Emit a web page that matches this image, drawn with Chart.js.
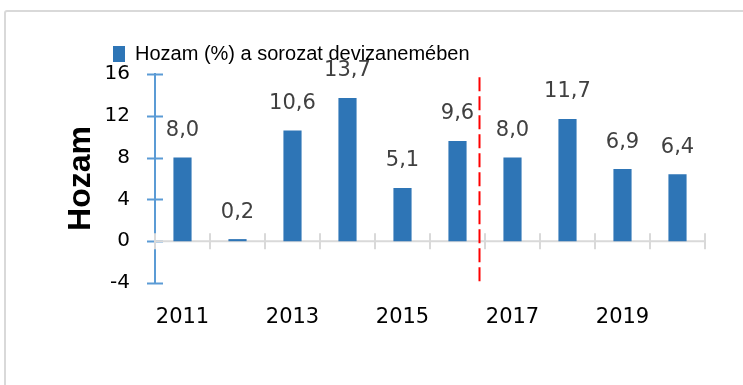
<!DOCTYPE html>
<html lang="hu">
<head>
<meta charset="utf-8">
<title>Hozam (%) a sorozat devizanemében</title>
<script src="https://cdn.jsdelivr.net/npm/chart.js@4/dist/chart.umd.min.js"></script>
<style>
  html, body { margin: 0; padding: 0; background: #ffffff; overflow: hidden; }
  #wrap { position: relative; width: 743px; height: 385px; }
  #frame {
    position: absolute; left: 4px; top: 10px; width: 800px; height: 420px;
    border: 2px solid #d9d9d9; border-radius: 3px; box-sizing: border-box;
  }
  #chart { position: absolute; left: 0; top: 0; }
</style>
</head>
<body>
<div id="wrap">
  <div id="frame"></div>
  <canvas id="chart" width="743" height="385"></canvas>
</div>
<script>
// Years and annual returns (%) in the series' currency
const years = ['2011', '2012', '2013', '2014', '2015', '2016', '2017', '2018', '2019', '2020'];
const returns = [8.0, 0.2, 10.6, 13.7, 5.1, 9.6, 8.0, 11.7, 6.9, 6.4];
const xTickLabels = ['2011', '', '2013', '', '2015', '', '2017', '', '2019', ''];
const yMin = -4;
const yMax = 16;
const yStep = 4;

// Dashed divider between the two periods (category index position and value span)
const dividerAt = 5.4;
const dividerSpan = [15.7, -3.9];

const TEXT_FONT = "'Liberation Sans', Arial, sans-serif";
const NUM_FONT = "'DejaVu Sans', 'Liberation Sans', sans-serif";
const BAR_BLUE = '#2e75b6';
const AXIS_BLUE = '#5b9bd5';
const GRID_GRAY = '#d9d9d9';

// Axis decorations: blue cross ticks on the value axis, grey zero line with category ticks
const axisDecor = {
  id: 'axisDecor',
  beforeDatasetsDraw(chart) {
    const {ctx, scales: {x, y}} = chart;
    const ax = chart.chartArea.left;
    ctx.save();
    ctx.strokeStyle = AXIS_BLUE;
    ctx.lineWidth = 2;
    y.ticks.forEach(t => {
      const py = Math.round(y.getPixelForValue(t.value)) + 0.5;
      ctx.beginPath();
      ctx.moveTo(ax - 8, py);
      ctx.lineTo(ax + 8, py);
      ctx.stroke();
    });
    const y0 = y.getPixelForValue(0);
    ctx.strokeStyle = GRID_GRAY;
    ctx.lineWidth = 2;
    ctx.beginPath();
    ctx.moveTo(chart.chartArea.left, y0);
    ctx.lineTo(chart.chartArea.right, y0);
    ctx.stroke();
    for (let i = 0; i <= years.length; i++) {
      const px = Math.round(x.getPixelForValue(i - 0.5));
      ctx.beginPath();
      ctx.moveTo(px, y0 - 8);
      ctx.lineTo(px, y0 + 8);
      ctx.stroke();
    }
    ctx.restore();
  }
};

// Red dashed divider line
const divider = {
  id: 'divider',
  afterDatasetsDraw(chart) {
    const {ctx, scales: {x, y}} = chart;
    const px = x.getPixelForValue(dividerAt);
    ctx.save();
    ctx.strokeStyle = '#ff0000';
    ctx.lineWidth = 2;
    ctx.setLineDash([14, 5]);
    ctx.beginPath();
    ctx.moveTo(px, y.getPixelForValue(dividerSpan[0]));
    ctx.lineTo(px, y.getPixelForValue(dividerSpan[1]));
    ctx.stroke();
    ctx.restore();
  }
};

// Value labels above the bars (Hungarian decimal comma)
const valueLabels = {
  id: 'valueLabels',
  afterDatasetsDraw(chart) {
    const {ctx} = chart;
    const meta = chart.getDatasetMeta(0);
    ctx.save();
    ctx.font = '21px ' + NUM_FONT;
    ctx.fillStyle = '#404040';
    ctx.textAlign = 'center';
    ctx.textBaseline = 'middle';
    meta.data.forEach((bar, i) => {
      const txt = returns[i].toFixed(1).replace('.', ',');
      ctx.fillText(txt, bar.x, bar.y - 27);
    });
    ctx.restore();
  }
};

new Chart(document.getElementById('chart'), {
  type: 'bar',
  data: {
    labels: years,
    datasets: [{
      label: 'Hozam (%) a sorozat devizanemében',
      data: returns,
      backgroundColor: BAR_BLUE,
      borderWidth: 0,
      categoryPercentage: 1.0,
      barPercentage: 0.33
    }]
  },
  options: {
    responsive: false,
    animation: false,
    devicePixelRatio: 1,
    layout: { padding: { left: 103, right: 38, top: 29, bottom: 0 } },
    plugins: {
      legend: {
        position: 'top',
        align: 'start',
        labels: {
          boxWidth: 12,
          boxHeight: 16,
          padding: 10,
          color: '#000000',
          font: { family: TEXT_FONT, size: 20 }
        }
      },
      tooltip: { enabled: false }
    },
    scales: {
      x: {
        position: 'bottom',
        grid: { display: false, drawTicks: false },
        border: { display: false },
        ticks: {
          autoSkip: false,
          maxRotation: 0,
          padding: 22,
          color: '#000000',
          font: { family: NUM_FONT, size: 21 },
          callback: (v, i) => xTickLabels[i]
        },
        afterFit(scale) {
          scale.height = 102;
          scale.paddingLeft = 0;
          scale.paddingRight = 0;
        }
      },
      y: {
        min: yMin,
        max: yMax,
        grid: { display: false, drawTicks: false },
        border: { display: true, color: AXIS_BLUE, width: 2 },
        ticks: {
          stepSize: yStep,
          padding: 25,
          color: '#000000',
          font: { family: NUM_FONT, size: 20 }
        },
        title: {
          display: true,
          text: 'Hozam',
          color: '#000000',
          font: { family: TEXT_FONT, size: 32, weight: 'bold' },
          padding: { top: -41, bottom: 0 }
        },
        afterFit(scale) {
          scale.width = 52;
          scale.paddingTop = 74;
          scale.paddingBottom = 0;
        }
      }
    }
  },
  plugins: [axisDecor, divider, valueLabels]
});
</script>
</body>
</html>
